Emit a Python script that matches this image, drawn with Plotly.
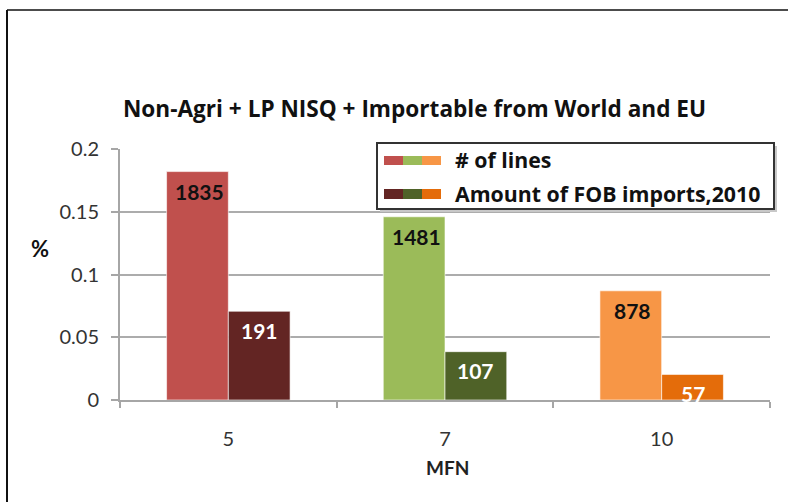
import plotly.graph_objects as go

# ---- data ----
categories = ["5", "7", "10"]
share_lines = [0.182, 0.146, 0.087]        # % share, "# of lines"
share_fob = [0.0707, 0.0385, 0.0204]       # % share, "Amount of FOB imports,2010"
count_lines = [1835, 1481, 878]
count_fob = [191, 107, 57]
colors_lines = ["#C0504D", "#9BBB59", "#F79646"]
colors_fob = ["#632523", "#4F6228", "#E46C0A"]
y_ticks = [0, 0.05, 0.1, 0.15, 0.2]
y_tick_labels = ["0", "0.05", "0.1", "0.15", "0.2"]

W, H = 788, 502
L, R, T, B = 120, 18, 149, 102
PW, PH = W - L - R, H - T - B

def px(xp):
    return (xp - L) / PW

def py(yp):
    return (H - B - yp) / PH

FONT = "Lato"
TFONT = "Open Sans"

fig = go.Figure()
fig.add_trace(go.Bar(x=categories, y=share_lines, name="# of lines",
                     marker=dict(color=colors_lines, line=dict(color="rgba(255,255,255,0.6)", width=1)),
                     hoverinfo="skip"))
fig.add_trace(go.Bar(x=categories, y=share_fob, name="Amount of FOB imports,2010",
                     marker=dict(color=colors_fob, line=dict(color="rgba(255,255,255,0.6)", width=1)),
                     hoverinfo="skip"))

annotations = []
half = 0.57 * PW / 3 / 4  # bar-centre offset from the category centre (px)
for i, (v, n) in enumerate(zip(share_lines, count_lines)):
    annotations.append(dict(x=i, y=v, xref="x", yref="y", text=str(n), showarrow=False,
                            xshift=-half + 2, yshift=-20, yanchor="middle",
                            font=dict(family=FONT, size=21, color="#111111", weight="bold")))
for i, (v, n) in enumerate(zip(share_fob, count_fob)):
    annotations.append(dict(x=i, y=v, xref="x", yref="y", text=str(n), showarrow=False,
                            xshift=half, yshift=-19, yanchor="middle",
                            font=dict(family=FONT, size=21, color="#ffffff", weight="bold")))

# title
annotations.append(dict(x=px(414), y=py(109), xref="paper", yref="paper", showarrow=False,
                        text="Non-Agri + LP NISQ + Importable from World and EU",
                        xanchor="center", yanchor="middle",
                        font=dict(family=TFONT, size=22.6, color="#111111", weight="bold")))
# y axis title (horizontal)
annotations.append(dict(x=px(40), y=py(248), xref="paper", yref="paper", showarrow=False,
                        text="%", xanchor="center", yanchor="middle",
                        font=dict(family=FONT, size=22, color="#111111", weight="bold")))
# x axis title
annotations.append(dict(x=px(447), y=py(467), xref="paper", yref="paper", showarrow=False,
                        text="MFN", xanchor="center", yanchor="middle",
                        font=dict(family=FONT, size=19, color="#222222", weight="bold")))
# legend texts
annotations.append(dict(x=px(453), y=py(159), xref="paper", yref="paper", showarrow=False,
                        text="# of lines", xanchor="left", yanchor="middle",
                        font=dict(family=TFONT, size=21.3, color="#111111", weight="bold")))
annotations.append(dict(x=px(453), y=py(193), xref="paper", yref="paper", showarrow=False,
                        text="Amount of FOB imports,2010", xanchor="left", yanchor="middle",
                        font=dict(family=TFONT, size=21.3, color="#111111", weight="bold")))

shapes = []
# outer frame (left and top lines)
shapes.append(dict(type="line", xref="paper", yref="paper", x0=px(7), x1=px(7), y0=py(10), y1=py(502),
                   line=dict(color="#111111", width=2)))
shapes.append(dict(type="line", xref="paper", yref="paper", x0=px(7), x1=px(788), y0=py(10), y1=py(10),
                   line=dict(color="#111111", width=1.5)))
# legend shadow + box
shapes.append(dict(type="rect", xref="paper", yref="paper", x0=px(380), x1=px(777), y0=py(146), y1=py(212),
                   fillcolor="#c8c8c8", line=dict(width=0), layer="above"))
shapes.append(dict(type="rect", xref="paper", yref="paper", x0=px(377), x1=px(774), y0=py(143), y1=py(209),
                   fillcolor="#ffffff", line=dict(color="#333333", width=2), layer="above"))
# legend swatches (three colours each)
for i in range(3):
    x0 = 384 + 19 * i
    shapes.append(dict(type="rect", xref="paper", yref="paper", x0=px(x0), x1=px(x0 + 19),
                       y0=py(156), y1=py(165), fillcolor=colors_lines[i], line=dict(width=0), layer="above"))
    shapes.append(dict(type="rect", xref="paper", yref="paper", x0=px(x0), x1=px(x0 + 19),
                       y0=py(189), y1=py(199), fillcolor=colors_fob[i], line=dict(width=0), layer="above"))

fig.update_layout(
    width=W, height=H,
    margin=dict(l=L, r=R, t=T, b=B),
    paper_bgcolor="white", plot_bgcolor="white",
    barmode="group", bargap=0.43, bargroupgap=0,
    showlegend=False,
    annotations=annotations, shapes=shapes,
    xaxis=dict(type="category", range=[-0.5, 2.5], showgrid=False,
               showline=True, linecolor="#a6a6a6", linewidth=2,
               ticks="outside", tickson="boundaries", ticklen=6, tickcolor="#a6a6a6", tickwidth=1.5,
               ticklabelstandoff=20,
               tickfont=dict(family=FONT, size=20, color="#333333")),
    yaxis=dict(range=[0, 0.2], tickvals=y_ticks, ticktext=y_tick_labels,
               showgrid=True, gridcolor="#acacac", gridwidth=2,
               showline=True, linecolor="#a6a6a6", linewidth=2, zeroline=False,
               ticks="outside", ticklen=7, tickcolor="#a6a6a6", tickwidth=1.5,
               ticklabelstandoff=8,
               tickfont=dict(family=FONT, size=20, color="#333333")),
)

fig.write_html("out.html", config={"displayModeBar": False},
               post_script="document.body.style.margin='0';")
